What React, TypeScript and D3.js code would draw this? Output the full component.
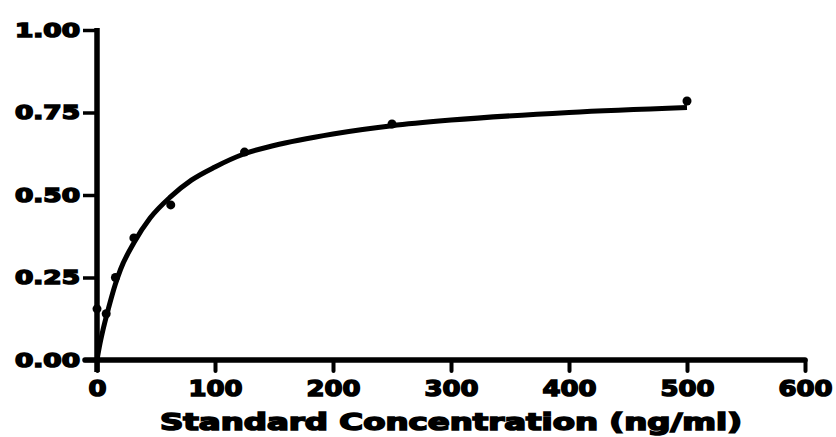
import { useEffect, useRef } from 'react'
import * as d3 from 'd3'

// standard points (ng/ml, OD)
const concentrations = [0, 7.8, 15.6, 31.25, 62.5, 125, 250, 500]
const odValues = [0.155, 0.14, 0.25, 0.37, 0.47, 0.63, 0.715, 0.785]

// fitted curve
const fitX = [0, 2, 5, 10, 15.6, 20, 31.25, 45, 62.5, 80, 100, 125, 150, 200, 250, 300, 400, 500]
const fitY = [0, 0.04, 0.09, 0.16, 0.23, 0.275, 0.355, 0.43, 0.495, 0.545, 0.585, 0.625, 0.65, 0.685, 0.71, 0.727, 0.75, 0.765]

const xTicks = [0, 100, 200, 300, 400, 500, 600]
const yTicks = [0, 0.25, 0.5, 0.75, 1]
const xTitle = 'Standard Concentration (ng/ml)'

const FONT = 'DejaVu Sans, sans-serif'

const App = () => {
  const ref = useRef<SVGSVGElement>(null)

  useEffect(() => {
    const svg = d3.select(ref.current)
    svg.selectAll('*').remove()

    const x = d3.scaleLinear().domain([0, 600]).range([97, 805])
    const y = d3.scaleLinear().domain([0, 1]).range([360, 30])

    // y axis
    const gy = svg.append('g')
      .attr('transform', `translate(${x(0)},0)`)
      .call(d3.axisLeft(y).tickValues(yTicks).tickFormat(d3.format('.2f')).tickSize(14).tickSizeOuter(0).tickPadding(3))
    gy.select('.domain').attr('stroke-width', 5.5).attr('d', `M0,${y(0) + 12}V${y(1) - 2}`)
    gy.selectAll('.tick line').attr('stroke-width', 3.5)
    gy.selectAll('.tick text')
      .attr('font-family', FONT)
      .attr('font-weight', 'bold')
      .attr('font-size', 19)
      .attr('fill', '#000')
      .attr('stroke', '#000')
      .attr('stroke-width', 1.5)
      .attr('textLength', 65)
      .attr('lengthAdjust', 'spacingAndGlyphs')

    // x axis
    const gx = svg.append('g')
      .attr('transform', `translate(0,${y(0)})`)
      .call(d3.axisBottom(x).tickValues(xTicks).tickFormat(d3.format('d')).tickSize(11).tickSizeOuter(0).tickPadding(9))
    gx.select('.domain').attr('stroke-width', 5.5).attr('stroke-linecap', 'round').attr('d', `M${x(0) - 12},0H${x(600)}`)
    gx.selectAll('.tick line').attr('stroke-width', 4).attr('stroke-linecap', 'round')
    gx.selectAll<SVGTextElement, number>('.tick text')
      .attr('font-family', FONT)
      .attr('font-weight', 'bold')
      .attr('font-size', 22)
      .attr('fill', '#000')
      .attr('stroke', '#000')
      .attr('stroke-width', 1.5)
      .attr('textLength', d => String(d).length * 18)
      .attr('lengthAdjust', 'spacingAndGlyphs')

    // title
    svg.append('text')
      .attr('x', 451)
      .attr('y', 430)
      .attr('text-anchor', 'middle')
      .attr('font-family', FONT)
      .attr('font-weight', 'bold')
      .attr('font-size', 23)
      .attr('stroke', '#000')
      .attr('stroke-width', 1.6)
      .attr('textLength', 582)
      .attr('lengthAdjust', 'spacingAndGlyphs')
      .text(xTitle)

    // fitted curve
    const line = d3.line<number>()
      .x((d, i) => x(fitX[i]))
      .y(d => y(d))
      .curve(d3.curveMonotoneX)

    svg.append('path')
      .datum(fitY)
      .attr('d', line)
      .attr('fill', 'none')
      .attr('stroke', '#000')
      .attr('stroke-width', 5)

    // points
    svg.append('g')
      .selectAll('circle')
      .data(odValues)
      .join('circle')
      .attr('cx', (d, i) => x(concentrations[i]))
      .attr('cy', d => y(d))
      .attr('r', 4.5)
      .attr('fill', '#000')
  }, [])

  return (
    <svg ref={ref} width={836} height={437}
      style={{ position: 'absolute', left: 0, top: 0, background: '#fff' }} />
  )
}

export default App
